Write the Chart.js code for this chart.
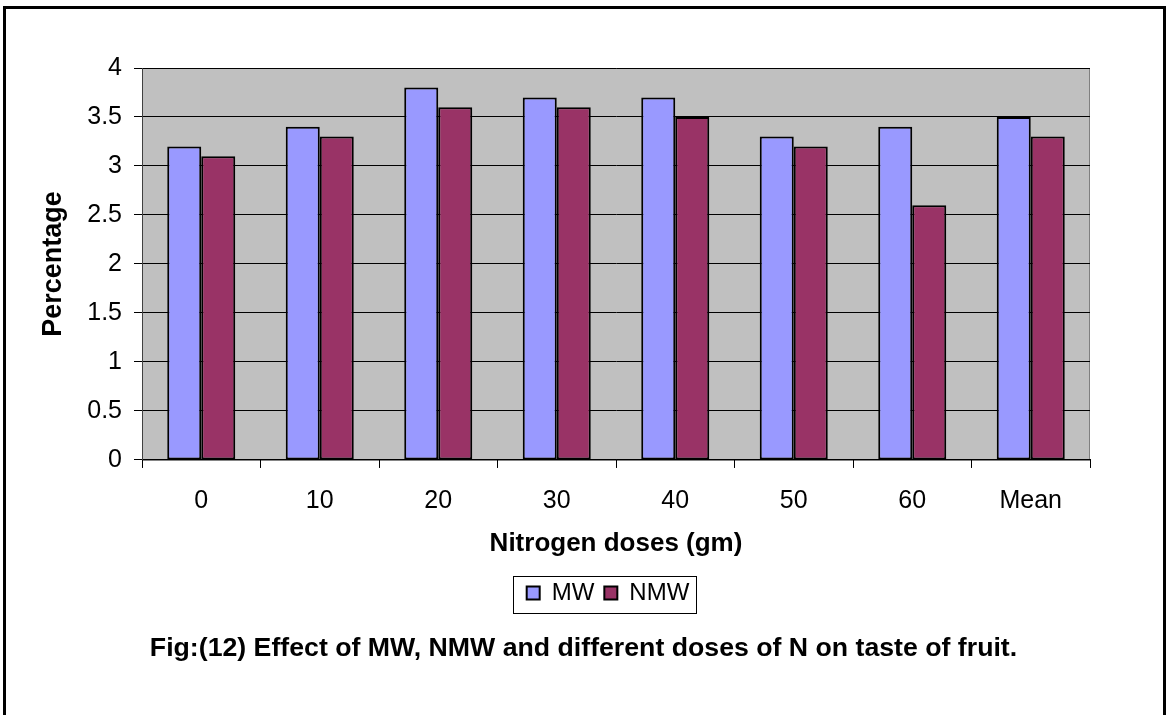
<!DOCTYPE html>
<html>
<head>
<meta charset="utf-8">
<script src="https://cdn.jsdelivr.net/npm/chart.js@4.4.1/dist/chart.umd.min.js"></script>
<style>
html,body{margin:0;padding:0;background:#fff;}
#wrap{width:1167px;height:715px;position:relative;}
</style>
</head>
<body>
<div id="wrap"><canvas id="c" width="1167" height="715"></canvas></div>
<script>
const categories = ["0", "10", "20", "30", "40", "50", "60", "Mean"];
const mwValues  = [3.2, 3.4, 3.8, 3.7, 3.7, 3.3, 3.4, 3.5];
const nmwValues = [3.1, 3.3, 3.6, 3.6, 3.5, 3.2, 2.6, 3.3];
const yTickValues = [0, 0.5, 1, 1.5, 2, 2.5, 3, 3.5, 4];
const seriesNames = ["MW", "NMW"];
const xTitle = "Nitrogen doses (gm)";
const yTitle = "Percentage";
const caption = "Fig:(12) Effect of MW, NMW and different doses of N on taste of fruit.";

const FONT = "'Liberation Sans', Arial, sans-serif";

const framePlugin = {
  id: 'frame',
  afterLayout(chart) {
    if (chart.legend) { chart.legend.left = 126; }
    if (chart.titleBlock) { chart.titleBlock.left = 0; chart.titleBlock.right = 1167; chart.titleBlock.width = 1167; }
  },
  beforeDraw(chart) {
    const {ctx, chartArea: a} = chart;
    ctx.save();
    ctx.fillStyle = '#fff';
    ctx.fillRect(0, 0, chart.width, chart.height);
    ctx.fillStyle = '#C0C0C0';
    ctx.fillRect(a.left, a.top, a.right - a.left, a.bottom - a.top);
    ctx.strokeStyle = '#808080';
    ctx.lineWidth = 1;
    ctx.strokeRect(a.left + 0.5, a.top + 0.5, a.right - a.left - 1, a.bottom - a.top);
    ctx.restore();
  },
  afterDraw(chart) {
    const {ctx} = chart;
    ctx.save();
    ctx.strokeStyle = '#000';
    ctx.lineWidth = 3;
    ctx.strokeRect(4.5, 7.5, 1160, 720);
    const boxes = chart.legend && chart.legend.legendHitBoxes;
    if (boxes && boxes.length) {
      let l = Infinity, r = -Infinity, t = Infinity, b = -Infinity;
      boxes.forEach(h => { l = Math.min(l, h.left); r = Math.max(r, h.left + h.width); t = Math.min(t, h.top); b = Math.max(b, h.top + h.height); });
      ctx.strokeStyle = '#000';
      ctx.lineWidth = 1;
      ctx.strokeRect(Math.round(l - 14) + 0.5, Math.round(t - 5) + 0.5, Math.round(r - l + 20), Math.round(b - t + 13));
    }
    ctx.restore();
  }
};

new Chart(document.getElementById('c'), {
  type: 'bar',
  data: {
    labels: categories,
    datasets: [
      { label: seriesNames[0], data: mwValues, backgroundColor: '#9999FF', borderColor: '#000', borderWidth: 2, borderSkipped: false },
      { label: seriesNames[1], data: nmwValues, backgroundColor: '#993366', borderColor: '#000', borderWidth: 2, borderSkipped: false }
    ]
  },
  options: {
    responsive: false,
    animation: false,
    devicePixelRatio: 1,
    categoryPercentage: 0.574,
    barPercentage: 1,
    layout: { padding: { top: 68, left: 0, right: 77, bottom: 0 } },
    plugins: {
      tooltip: { enabled: false },
      legend: {
        position: 'bottom',
        labels: {
          color: '#000',
          font: { family: FONT, size: 24 },
          boxWidth: 13, boxHeight: 13,
          padding: 10
        }
      },
      title: {
        display: true,
        position: 'bottom',
        text: caption,
        color: '#000',
        font: { family: FONT, size: 26.7, weight: 'bold' },
        padding: { top: 18, bottom: 50 }
      }
    },
    scales: {
      x: {
        grid: { display: true, drawOnChartArea: false, drawTicks: true, tickLength: 8, color: '#000', offset: true },
        border: { color: '#000', width: 1 },
        ticks: { color: '#000', font: { family: FONT, size: 25 }, padding: 18, maxRotation: 0 },
        title: { display: true, text: xTitle, color: '#000', font: { family: FONT, size: 26, weight: 'bold' }, padding: { top: 0, bottom: 12 } },
        afterFit(scale) { scale.height = 111; }
      },
      y: {
        min: 0, max: 4,
        afterBuildTicks(scale) { scale.ticks = yTickValues.map(v => ({ value: v })); },
        grid: { color: '#000', lineWidth: 1, drawTicks: true, tickLength: 8 },
        border: { color: '#404040', width: 1 },
        ticks: { color: '#000', font: { family: FONT, size: 25 }, padding: 12, callback: (v) => String(v) },
        title: { display: true, text: yTitle, color: '#000', font: { family: FONT, size: 27, weight: 'bold' }, padding: { top: 37, bottom: 0 } },
        afterFit(scale) { scale.width = 142; }
      }
    }
  },
  plugins: [framePlugin]
});
</script>
</body>
</html>
